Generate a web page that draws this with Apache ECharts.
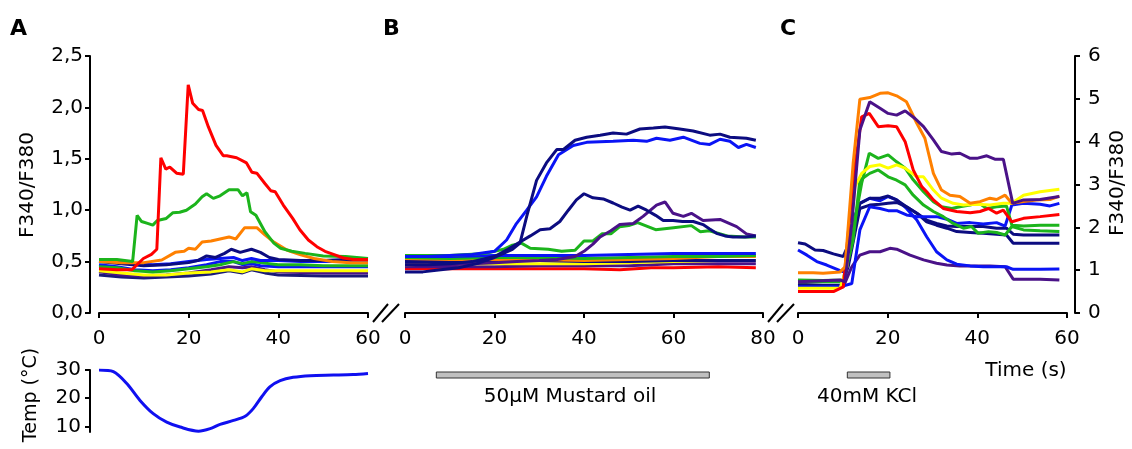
<!DOCTYPE html>
<html>
<head>
<meta charset="utf-8">
<script src="https://cdn.jsdelivr.net/npm/echarts@6/dist/echarts.min.js"></script>
<style>
  html, body { margin: 0; padding: 0; background: #fff; }
  #main { width: 1132px; height: 449px; }
</style>
</head>
<body>
<div id="main"></div>
<script>
// ---- data, [time (s), F340/F380] pairs ----
// panel A: cold stimulus
var aRed = [[0,0.43],[4,0.42],[7.3,0.42],[9.9,0.53],[11.7,0.57],[12.9,0.62],[13.8,1.51],[14.9,1.40],[15.8,1.42],[17.3,1.36],[18.8,1.35],[19.9,2.22],[20.9,2.04],[22.2,1.98],[23.1,1.97],[24.4,1.81],[26.1,1.63],[27.7,1.53],[28.5,1.53],[30.7,1.51],[32.9,1.46],[34.1,1.37],[35.2,1.36],[37,1.26],[38.3,1.19],[39.3,1.18],[41.1,1.05],[43.2,0.92],[44.8,0.81],[46.7,0.71],[48.6,0.645],[50.4,0.6],[52.3,0.57],[54.5,0.535],[56.7,0.52],[60,0.52]];
var aGreen = [[0,0.52],[4,0.52],[7.5,0.5],[8.5,0.95],[9.5,0.89],[11,0.87],[12,0.855],[13,0.9],[15,0.92],[16.5,0.976],[18,0.98],[19.5,1.0],[21.5,1.06],[23,1.13],[24,1.16],[25.5,1.115],[27,1.14],[29,1.2],[31,1.2],[32,1.14],[33,1.17],[33.8,0.985],[35,0.95],[37,0.79],[39,0.68],[40.5,0.63],[43,0.6],[46,0.58],[50,0.555],[55,0.55],[60,0.53]];
var aOrange = [[0,0.5],[5,0.49],[10,0.49],[14,0.515],[17,0.59],[19,0.6],[20,0.63],[21.5,0.62],[23,0.69],[25,0.7],[27,0.72],[29,0.74],[30.5,0.72],[32.5,0.83],[35.2,0.83],[37,0.76],[39,0.69],[42,0.61],[45,0.565],[48,0.53],[52,0.5],[56,0.49],[60,0.49]];
var aNavy = [[0,0.5],[5,0.48],[10,0.46],[15,0.47],[20,0.49],[22,0.51],[24,0.555],[26,0.54],[28,0.58],[29.5,0.62],[31.5,0.59],[34,0.62],[36,0.59],[38,0.54],[40,0.52],[45,0.51],[50,0.51],[55,0.52],[60,0.52]];
var aBlue = [[0,0.51],[4,0.5],[8,0.48],[12,0.47],[16,0.48],[20,0.5],[24,0.52],[27,0.53],[30,0.54],[32,0.51],[34,0.53],[36,0.51],[40,0.51],[45,0.5],[50,0.5],[55,0.5],[60,0.5]];
var aBlue2 = [[0,0.47],[4,0.45],[8,0.42],[12,0.41],[16,0.42],[20,0.44],[24,0.47],[27,0.5],[30,0.5],[32,0.47],[34,0.48],[36,0.46],[40,0.45],[45,0.45],[50,0.45],[55,0.45],[60,0.45]];
var aGreen2 = [[0,0.45],[4,0.44],[8,0.41],[12,0.4],[16,0.41],[20,0.43],[24,0.45],[27,0.47],[30,0.5],[32,0.48],[34,0.5],[36,0.49],[40,0.47],[45,0.47],[50,0.46],[55,0.46],[60,0.46]];
var aYellow = [[0,0.41],[5,0.39],[10,0.37],[15,0.37],[20,0.39],[25,0.4],[29,0.42],[32,0.4],[34,0.43],[37,0.41],[40,0.41],[50,0.41],[60,0.41]];
var aPurple = [[0,0.4],[5,0.37],[10,0.36],[15,0.37],[20,0.39],[25,0.42],[29,0.45],[32,0.44],[34,0.45],[37,0.42],[40,0.4],[50,0.39],[60,0.39]];
var aMidnight = [[0,0.37],[5,0.35],[10,0.34],[15,0.35],[20,0.36],[25,0.38],[29,0.41],[32,0.39],[34,0.42],[37,0.39],[40,0.37],[50,0.36],[60,0.36]];
// bath temperature under panel A
var tempC = [[0,30],[3.2,29.4],[6.2,25.2],[9.1,19.3],[12.1,14.5],[15.1,11.5],[18.1,9.75],[22.2,8.3],[24.8,9.2],[27,10.7],[30,12.1],[32.6,13.6],[34.4,16.3],[36.3,20.5],[38.1,24],[40.4,26.2],[43.3,27.4],[47.1,28],[52.3,28.2],[56.7,28.4],[60,28.8]];

// panel B: mustard oil
var bNavy1 = [[0,0.4],[4,0.4],[8,0.42],[12,0.44],[16,0.48],[20,0.54],[22,0.58],[24,0.62],[25.7,0.68],[27.2,0.94],[29.4,1.29],[31.6,1.46],[33.9,1.59],[35.4,1.59],[38,1.68],[40.6,1.71],[43.6,1.73],[46.5,1.75],[49.5,1.74],[52.5,1.79],[55.5,1.8],[58.1,1.81],[61.4,1.79],[64.4,1.77],[68.1,1.73],[70.4,1.74],[72.6,1.71],[76.3,1.7],[78.4,1.68]];
var bNavy2 = [[0,0.47],[5,0.47],[10,0.48],[15,0.5],[20,0.55],[23,0.62],[25.7,0.69],[28,0.75],[30.2,0.81],[32.4,0.82],[34.6,0.89],[36.5,1.0],[38.3,1.1],[40,1.16],[42,1.12],[44.3,1.11],[46.5,1.07],[48.5,1.03],[50.3,1.0],[52.1,1.04],[54,1.0],[56,0.95],[57.7,0.9],[59.9,0.9],[62,0.89],[64.4,0.89],[66.6,0.86],[68,0.82],[69.6,0.775],[71.5,0.75],[73.3,0.74],[76,0.74],[78.4,0.75]];
var bBlue = [[0,0.55],[5,0.55],[10,0.56],[15,0.57],[20,0.6],[22.7,0.71],[24.9,0.87],[27.2,1.0],[29.4,1.13],[31.6,1.33],[34.3,1.54],[37.6,1.63],[40.6,1.66],[46.5,1.67],[51,1.68],[54,1.67],[56.2,1.7],[59.2,1.68],[62.2,1.71],[65.9,1.65],[68.1,1.64],[70.4,1.69],[72.6,1.67],[74.5,1.61],[76.3,1.64],[78.4,1.61]];
var bPurple = [[0,0.47],[5,0.47],[10,0.47],[15,0.48],[20,0.49],[25,0.5],[30,0.51],[34,0.52],[38,0.55],[40,0.6],[42,0.67],[43.6,0.74],[46,0.8],[48,0.86],[51,0.87],[53.2,0.94],[56.2,1.05],[58.1,1.08],[59.9,0.97],[62.2,0.94],[64,0.97],[66.6,0.9],[70.4,0.91],[74.1,0.84],[76.3,0.77],[78.4,0.75]];
var bGreen = [[0,0.56],[5,0.56],[10,0.56],[14,0.57],[18,0.58],[22,0.62],[24,0.66],[26,0.68],[28,0.63],[32,0.62],[35,0.6],[38,0.61],[40,0.7],[42,0.7],[44,0.77],[46,0.77],[48,0.84],[50,0.85],[52,0.88],[56,0.81],[60,0.83],[64,0.85],[66,0.79],[68,0.8],[72,0.75],[76,0.74],[78.4,0.74]];
var bBlueF = [[0,0.55],[10,0.55],[20,0.56],[30,0.56],[40,0.56],[50,0.57],[60,0.58],[70,0.58],[78.4,0.58]];
var bGreenF = [[0,0.54],[10,0.53],[20,0.54],[30,0.54],[40,0.53],[50,0.54],[60,0.55],[70,0.55],[78.4,0.56]];
var bOrangeF = [[0,0.53],[10,0.52],[20,0.52],[30,0.52],[40,0.51],[50,0.52],[60,0.53],[70,0.55],[78.4,0.55]];
var bNavyF = [[0,0.5],[10,0.5],[20,0.51],[30,0.51],[40,0.5],[50,0.5],[60,0.51],[70,0.51],[78.4,0.51]];
var bYellowF = [[0,0.47],[10,0.48],[20,0.48],[30,0.48],[40,0.48],[50,0.49],[60,0.5],[70,0.51],[78.4,0.51]];
var bPurpleF = [[0,0.45],[10,0.45],[20,0.45],[30,0.46],[40,0.46],[50,0.46],[60,0.48],[70,0.48],[78.4,0.48]];
var bRedF = [[0,0.43],[10,0.43],[20,0.43],[30,0.43],[40,0.43],[48,0.42],[55,0.44],[60,0.44],[70,0.45],[78.4,0.44]];

// panel C: KCl
var cOrange = [[0,0.94],[3.4,0.94],[5.6,0.93],[9.4,0.96],[10.5,1.08],[12.3,3.49],[13.8,4.99],[16,5.03],[18.3,5.13],[20.1,5.14],[22,5.07],[24.2,4.93],[26.5,4.43],[28.3,4.08],[30.2,3.26],[32,2.87],[33.9,2.75],[36.1,2.72],[38.4,2.56],[40.6,2.6],[42.8,2.68],[44.3,2.65],[46.2,2.75],[47.7,2.56],[50.3,2.6],[53.2,2.64],[56.2,2.65],[58.3,2.73]];
var cPurple = [[0,0.73],[9.4,0.77],[10.5,0.73],[12,2.09],[13.8,4.27],[16,4.93],[18.3,4.78],[20.1,4.66],[22,4.62],[23.9,4.72],[26.1,4.54],[28,4.35],[30.2,4.04],[32,3.77],[34.3,3.71],[36.1,3.73],[38.4,3.61],[39.9,3.61],[42.1,3.67],[43.9,3.59],[45.8,3.59],[47.9,2.56],[50.3,2.64],[54,2.65],[58.3,2.72]];
var cRed = [[0,0.5],[7.9,0.5],[10.1,0.61],[12.3,3.1],[14.2,4.58],[15.9,4.66],[17.9,4.35],[20.1,4.37],[22,4.35],[23.9,4.0],[25.7,3.34],[27.6,2.95],[28.7,2.83],[30.2,2.64],[32.4,2.44],[35.4,2.37],[38.4,2.34],[40.6,2.37],[42.5,2.44],[44.3,2.33],[45.8,2.4],[47.7,2.13],[50.3,2.21],[54,2.25],[58.3,2.3]];
var cGreen1 = [[0,0.77],[5.6,0.76],[10.1,0.77],[12.3,1.94],[14.2,3.03],[15.9,3.73],[17.9,3.61],[20.1,3.69],[22,3.53],[23.9,3.38],[25.7,3.11],[28,2.83],[30.2,2.6],[32,2.48],[34.3,2.44],[36.1,2.48],[38.4,2.52],[40.2,2.58],[42.1,2.44],[44.3,2.48],[46.5,2.5],[47.7,2.05],[50.3,2.03],[54,2.05],[58.3,2.05]];
var cGreen2 = [[0,0.73],[10.1,0.73],[12.3,1.7],[13.8,3.1],[16,3.26],[17.9,3.34],[20.1,3.18],[22,3.1],[23.9,2.99],[25.7,2.75],[28,2.52],[30.2,2.37],[32.4,2.25],[34.6,2.09],[36.9,1.98],[38.7,2.02],[40.2,1.86],[42.5,1.9],[44.3,1.88],[46.2,1.82],[47.7,2.02],[50.3,1.94],[54,1.92],[58.3,1.9]];
var cYellow = [[0,0.58],[9.4,0.58],[10.9,1.08],[12.7,2.95],[14.2,3.26],[16,3.42],[18.3,3.46],[20.1,3.38],[22,3.46],[23.9,3.38],[26.5,3.18],[28,3.18],[30.2,2.87],[32,2.68],[34.6,2.56],[36.9,2.52],[39.9,2.54],[42.8,2.52],[45.8,2.56],[47.7,2.56],[50.3,2.75],[54,2.83],[58.3,2.89]];
var cNavy1 = [[0,1.64],[1.6,1.61],[3.8,1.47],[5.6,1.46],[7.9,1.38],[10.1,1.32],[12,1.78],[13.8,2.56],[16,2.68],[18.3,2.68],[20.1,2.73],[22,2.64],[24.2,2.48],[26.5,2.33],[28.7,2.13],[30.9,2.05],[33.2,1.98],[35.4,1.9],[38.4,1.88],[41.3,1.86],[44.3,1.84],[46.5,1.82],[48,1.63],[50.3,1.63],[54,1.63],[58.3,1.63]];
var cBlue1 = [[0,1.47],[2,1.35],[4.2,1.2],[6.4,1.12],[9.4,0.99],[10.5,0.95],[12.3,2.17],[13.8,2.56],[16,2.68],[18.3,2.62],[20.1,2.72],[22,2.64],[24.2,2.44],[26.5,2.17],[28.7,1.78],[30.9,1.43],[33.2,1.24],[35.4,1.14],[38.4,1.1],[41.3,1.08],[44.3,1.08],[46.5,1.08],[48,1.02],[50.3,1.02],[54,1.02],[58.3,1.03]];
var cBlue2 = [[0,0.61],[9.4,0.61],[12,0.69],[13.8,1.94],[16,2.48],[18.3,2.44],[20.1,2.39],[22,2.39],[24.2,2.29],[26.5,2.25],[28.7,2.25],[30.9,2.25],[33.2,2.19],[35.4,2.09],[38.4,2.11],[41.3,2.08],[44.3,2.11],[46.2,2.03],[47.7,2.52],[50.3,2.56],[54,2.54],[56.2,2.5],[58.3,2.56]];
var cNavy2 = [[0,0.65],[9.7,0.65],[11.2,1.08],[13.8,2.44],[16,2.52],[18.3,2.54],[20.1,2.56],[22,2.58],[24.2,2.48],[26.5,2.33],[28.7,2.17],[30.9,2.09],[33.2,2.03],[35.4,2.02],[38.4,2.02],[41.3,2.02],[44.3,1.98],[46.5,1.98],[48,1.84],[50.3,1.82],[54,1.82],[58.3,1.82]];
var cPurple2 = [[0,0.68],[10.1,0.61],[12,1.08],[13.8,1.35],[16,1.43],[18.3,1.43],[20.5,1.51],[22,1.49],[25,1.35],[28,1.24],[30.9,1.16],[33.2,1.12],[36.1,1.1],[39.9,1.1],[42.8,1.1],[46.2,1.08],[48,0.79],[50.3,0.79],[54,0.79],[58.3,0.77]];

// stimulus bars (s)
var mustardOn = [7, 68];
var kclOn = [11, 20.5];

var yTicksA = [0, 0.5, 1, 1.5, 2, 2.5];
var yTicksC = [0, 1, 2, 3, 4, 5, 6];
var tempTicks = [10, 20, 30];

var RED = '#ff0000', ORANGE = '#ff8000', YELLOW = '#ffff00', GREEN = '#1cb41c',
    BLUE = '#0a14f5', NAVY = '#0c0c80', PURPLE = '#4a1288', MIDNIGHT = '#1a1a78';
var FONT = 'DejaVu Sans';

function mk(data, color, gi) {
    return {
        type: 'line', data: data, xAxisIndex: gi, yAxisIndex: gi,
        showSymbol: false, symbol: 'none',
        lineStyle: { color: color, width: 3 },
        itemStyle: { color: color },
        silent: true
    };
}

function comma(v) { return v.toFixed(1).replace('.', ','); }

var axisLine = { show: true, onZero: false, lineStyle: { color: '#000', width: 2 } };
var axisTick = { show: true, length: 5, lineStyle: { color: '#000', width: 2 } };
var lbl = { color: '#000', fontSize: 20, fontFamily: FONT };

var myChart = echarts.init(document.getElementById('main'));
var option = {
    animation: false,
    backgroundColor: '#fff',
    grid: [
        { left: 99, top: 56, width: 269, height: 257 },   // A
        { left: 405, top: 56, width: 358, height: 257 },  // B
        { left: 798, top: 56, width: 269, height: 257 },  // C
        { left: 99, top: 370, width: 269, height: 62 },   // temp
        { left: 405, top: 372, width: 358, height: 6 },   // mustard bar
        { left: 798, top: 372, width: 269, height: 6 }    // KCl bar
    ],
    xAxis: [
        { gridIndex: 0, type: 'value', min: 0, max: 60, interval: 20, axisLine: axisLine, axisTick: axisTick,
          axisLabel: Object.assign({ margin: 16 }, lbl), splitLine: { show: false } },
        { gridIndex: 1, type: 'value', min: 0, max: 80, interval: 20, axisLine: axisLine, axisTick: axisTick,
          axisLabel: Object.assign({ margin: 16 }, lbl), splitLine: { show: false } },
        { gridIndex: 2, type: 'value', min: 0, max: 60, interval: 20, axisLine: axisLine, axisTick: axisTick,
          axisLabel: Object.assign({ margin: 16 }, lbl), splitLine: { show: false } },
        { gridIndex: 3, type: 'value', min: 0, max: 60, show: false },
        { gridIndex: 4, type: 'value', min: 0, max: 80, show: false },
        { gridIndex: 5, type: 'value', min: 0, max: 60, show: false }
    ],
    yAxis: [
        { gridIndex: 0, type: 'value', min: 0, max: 2.5, interval: 0.5, offset: 9, axisLine: axisLine,
          axisTick: axisTick, splitLine: { show: false },
          axisLabel: Object.assign({ margin: 7, formatter: comma, customValues: yTicksA }, lbl) },
        { gridIndex: 1, type: 'value', min: 0, max: 2.5, show: false },
        { gridIndex: 2, type: 'value', min: 0, max: 6, interval: 1, position: 'right', offset: 8,
          axisLine: axisLine, axisTick: axisTick, splitLine: { show: false },
          axisLabel: Object.assign({ margin: 13, customValues: yTicksC }, lbl) },
        { gridIndex: 3, type: 'value', min: 8, max: 30, offset: 9, axisLine: axisLine,
          axisTick: Object.assign({ customValues: tempTicks }, axisTick), splitLine: { show: false },
          axisLabel: Object.assign({ margin: 9, customValues: tempTicks }, lbl) },
        { gridIndex: 4, type: 'value', min: 0, max: 1, show: false },
        { gridIndex: 5, type: 'value', min: 0, max: 1, show: false }
    ],
    series: [
        mk(aMidnight, MIDNIGHT, 0), mk(aPurple, PURPLE, 0), mk(aYellow, YELLOW, 0), mk(aBlue2, BLUE, 0),
        mk(aGreen2, GREEN, 0), mk(aBlue, BLUE, 0), mk(aNavy, NAVY, 0), mk(aOrange, ORANGE, 0),
        mk(aGreen, GREEN, 0), mk(aRed, RED, 0),

        mk(bRedF, RED, 1), mk(bPurpleF, PURPLE, 1), mk(bYellowF, YELLOW, 1), mk(bNavyF, NAVY, 1),
        mk(bOrangeF, ORANGE, 1), mk(bGreenF, GREEN, 1), mk(bBlueF, BLUE, 1),
        mk(bGreen, GREEN, 1), mk(bPurple, PURPLE, 1), mk(bNavy2, NAVY, 1), mk(bBlue, BLUE, 1), mk(bNavy1, NAVY, 1),

        mk(cPurple2, PURPLE, 2), mk(cBlue1, BLUE, 2), mk(cNavy1, NAVY, 2), mk(cNavy2, NAVY, 2),
        mk(cBlue2, BLUE, 2), mk(cGreen2, GREEN, 2), mk(cGreen1, GREEN, 2), mk(cYellow, YELLOW, 2),
        mk(cRed, RED, 2), mk(cOrange, ORANGE, 2), mk(cPurple, PURPLE, 2),

        Object.assign(mk(tempC, '#1010f0', 3), { smooth: 0.3, lineStyle: { color: '#1010f0', width: 3 } }),

        { type: 'line', xAxisIndex: 4, yAxisIndex: 4, data: [], silent: true,
          markArea: { silent: true, itemStyle: { color: '#c0c0c0', borderColor: '#333', borderWidth: 1 },
            data: [[{ xAxis: mustardOn[0], yAxis: 0 }, { xAxis: mustardOn[1], yAxis: 1 }]] } },
        { type: 'line', xAxisIndex: 5, yAxisIndex: 5, data: [], silent: true,
          markArea: { silent: true, itemStyle: { color: '#c0c0c0', borderColor: '#333', borderWidth: 1 },
            data: [[{ xAxis: kclOn[0], yAxis: 0 }, { xAxis: kclOn[1], yAxis: 1 }]] } }
    ],
    graphic: [
        // panel letters
        { type: 'text', left: 10, top: 18, style: { text: 'A', font: 'bold 22px "DejaVu Sans"', fill: '#000' } },
        { type: 'text', left: 383, top: 18, style: { text: 'B', font: 'bold 22px "DejaVu Sans"', fill: '#000' } },
        { type: 'text', left: 780, top: 18, style: { text: 'C', font: 'bold 22px "DejaVu Sans"', fill: '#000' } },
        // axis titles
        { type: 'text', x: 28, y: 185, rotation: Math.PI / 2,
          style: { text: 'F340/F380', font: '20px "DejaVu Sans"', fill: '#000', align: 'center', verticalAlign: 'middle' } },
        { type: 'text', x: 1118, y: 183, rotation: Math.PI / 2,
          style: { text: 'F340/F380', font: '20px "DejaVu Sans"', fill: '#000', align: 'center', verticalAlign: 'middle' } },
        { type: 'text', x: 31, y: 395, rotation: Math.PI / 2,
          style: { text: 'Temp (°C)', font: '19px "DejaVu Sans"', fill: '#000', align: 'center', verticalAlign: 'middle' } },
        { type: 'text', x: 1026, y: 371,
          style: { text: 'Time (s)', font: '20px "DejaVu Sans"', fill: '#000', align: 'center', verticalAlign: 'middle' } },
        // stimulus labels
        { type: 'text', x: 570, y: 397,
          style: { text: '50µM Mustard oil', font: '20px "DejaVu Sans"', fill: '#000', align: 'center', verticalAlign: 'middle' } },
        { type: 'text', x: 867, y: 397,
          style: { text: '40mM KCl', font: '20px "DejaVu Sans"', fill: '#000', align: 'center', verticalAlign: 'middle' } },
        // axis breaks
        { type: 'line', shape: { x1: 373, y1: 322, x2: 388, y2: 304 }, style: { stroke: '#000', lineWidth: 2 } },
        { type: 'line', shape: { x1: 382, y1: 322, x2: 399, y2: 304 }, style: { stroke: '#000', lineWidth: 2 } },
        { type: 'line', shape: { x1: 768, y1: 322, x2: 783, y2: 304 }, style: { stroke: '#000', lineWidth: 2 } },
        { type: 'line', shape: { x1: 777, y1: 322, x2: 794, y2: 304 }, style: { stroke: '#000', lineWidth: 2 } }
    ]
};
myChart.setOption(option);
</script>
</body>
</html>
